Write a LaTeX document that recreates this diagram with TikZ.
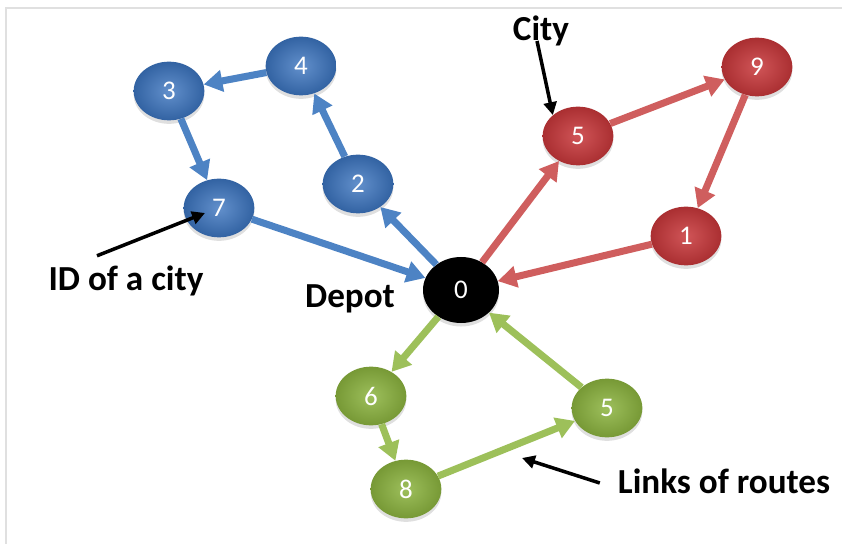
\documentclass[tikz,border=0pt]{standalone}
\usepackage{fontspec}
\setmainfont{Carlito}
\usetikzlibrary{shapes}
\usetikzlibrary{arrows.meta}
\usetikzlibrary{shadows}

\definecolor{cityblue}{HTML}{3B74BF}
\definecolor{cityred}{HTML}{C8373A}
\definecolor{citygreen}{HTML}{8CB43F}
\definecolor{linkblue}{HTML}{4D83C4}
\definecolor{linkred}{HTML}{CF5E5E}
\definecolor{linkgreen}{HTML}{9DC05A}

\begin{document}
\begin{tikzpicture}[x=0.03cm,y=-0.03cm,
  city/.style={ellipse,inner sep=0pt,minimum width=2.12cm,minimum height=1.76cm,
    text=white,font=\fontsize{23}{25}\selectfont,
    drop shadow={shadow xshift=0pt,shadow yshift=-3pt,opacity=0.25}},
  bluecity/.style={city,inner color=cityblue!80!white,outer color=cityblue!85!black},
  redcity/.style={city,inner color=cityred!85!white,outer color=cityred!85!black},
  greencity/.style={city,inner color=citygreen!85!white,outer color=citygreen!85!black},
  link/.style={line width=6pt,-{Triangle[length=16pt,width=18pt]}},
  pointer/.style={line width=3pt,-{Triangle[length=11pt,width=11pt]}},
  tag/.style={font=\fontsize{30}{32}\selectfont\bfseries}]
  \useasboundingbox (0,0) rectangle (842,544);
  \draw[black!12,line width=1pt] (6,544) -- (6,8) -- (842,8);

  % cities
  \node[city,fill=black,minimum width=2.28cm,minimum height=1.98cm] (depot) at (461,290) {0};
  \node[bluecity] (b3) at (169,91) {3};
  \node[bluecity] (b4) at (301,66) {4};
  \node[bluecity] (b2) at (358,184) {2};
  \node[bluecity] (b7) at (219,208) {7};
  \node[redcity] (r5) at (578,136) {5};
  \node[redcity] (r9) at (757,67) {9};
  \node[redcity] (r1) at (686,236) {1};
  \node[greencity] (g6) at (371,396) {6};
  \node[greencity] (g5) at (607,408) {5};
  \node[greencity] (g8) at (406,489) {8};

  % routes
  \draw[link,linkblue] (depot) -- (b2);
  \draw[link,linkblue] (b2) -- (b4);
  \draw[link,linkblue] (b4) -- (b3);
  \draw[link,linkblue] (b3) -- (b7);
  \draw[link,linkblue] (b7) -- (depot);
  \draw[link,linkred] (depot) -- (r5);
  \draw[link,linkred] (r5) -- (r9);
  \draw[link,linkred] (r9) -- (r1);
  \draw[link,linkred] (r1) -- (depot);
  \draw[link,linkgreen] (depot) -- (g6);
  \draw[link,linkgreen] (g6) -- (g8);
  \draw[link,linkgreen] (g8) -- (g5);
  \draw[link,linkgreen] (g5) -- (depot);

  % labels
  \node[tag] (citytag) at (541,31) {City};
  \node[tag] (idtag) at (126,281) {ID of a city};
  \node[tag] (depottag) at (350,299) {Depot};
  \node[tag] (linkstag) at (724,481) {Links of routes};
  \coordinate (linkmid) at (522,458);
  \coordinate (idpoint) at (205,213);
  \draw[pointer] (537,41) -- (r5.north west);
  \draw[pointer] (idtag.north) ++(-29,-6) -- (idpoint);
  \draw[pointer] (linkstag.west) ++(-14,2) -- (linkmid);
\end{tikzpicture}
\end{document}
